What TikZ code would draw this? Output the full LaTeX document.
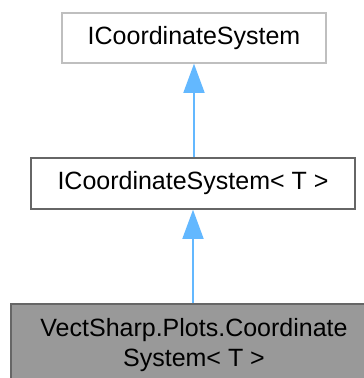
\documentclass[tikz,border=0pt]{standalone}
\usepackage{fontspec}
\setmainfont{Liberation Sans}
\usetikzlibrary{arrows.meta}
\definecolor{edgeblue}{HTML}{63B8FF}
\definecolor{lightframe}{HTML}{BFBFBF}
\definecolor{darkframe}{HTML}{666666}
\definecolor{focusfill}{HTML}{999999}
\tikzset{
  classbox/.style={draw=darkframe, fill=white, line width=1.5bp, inner sep=0pt,
    font=\fontsize{25bp}{30bp}\selectfont, align=center},
  extbox/.style={classbox, draw=lightframe},
  focusbox/.style={classbox, fill=focusfill},
  inherit/.style={draw=edgeblue, line width=1.5bp,
    -{Triangle[length=29bp,width=21bp,fill=edgeblue]}}
}
\begin{document}
\begin{tikzpicture}[x=1bp,y=-1bp]
  \useasboundingbox (0,0) rectangle (364,378);
  \clip (0,0) rectangle (364,378);
  \fill[white] (0,0) rectangle (364,378);
  \node[extbox, minimum width=264bp, minimum height=50bp] (base) at (194,38) {ICoordinateSystem};
  \node[classbox, minimum width=324bp, minimum height=51bp] (generic) at (193,183.5) {ICoordinateSystem< T >};
  \node[focusbox, minimum width=366bp, minimum height=82bp] (impl) at (194,345)
    {VectSharp.Plots.Coordinate\\System< T >};
  \draw[inherit] (generic.north -| base.south) -- (base.south);
  \draw[inherit] (impl.north -| generic.south) -- (generic.south);
\end{tikzpicture}
\end{document}
